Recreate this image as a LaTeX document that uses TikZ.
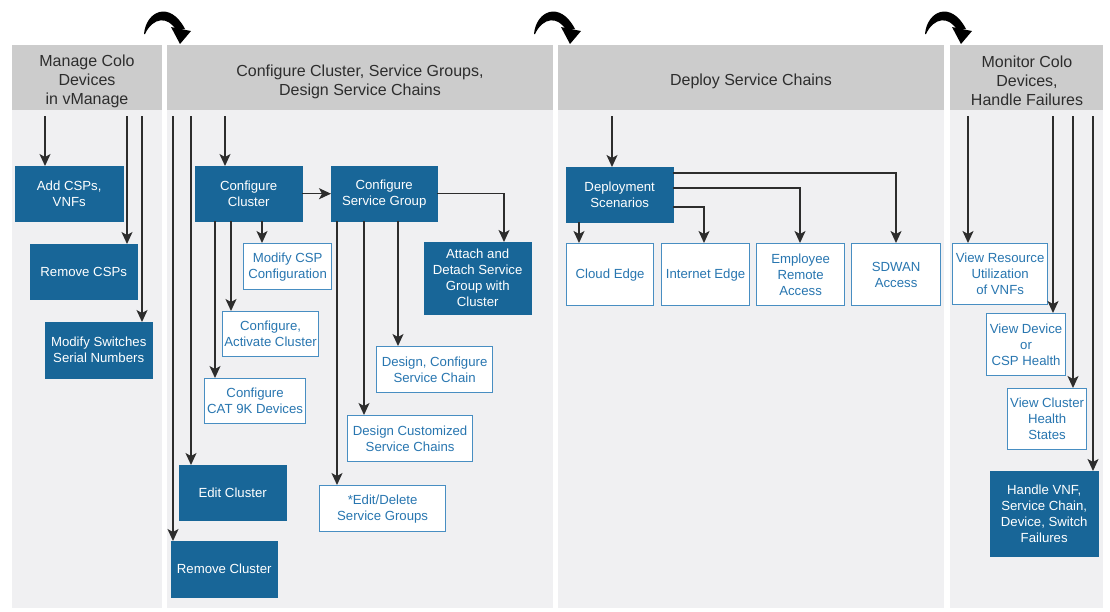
\documentclass[tikz,border=0pt]{standalone}
\usepackage{fontspec}
\setmainfont{Liberation Sans}
\usetikzlibrary{arrows.meta}
\definecolor{dblue}{RGB}{24,102,152}
\definecolor{lblue}{RGB}{72,142,194}
\definecolor{ltext}{RGB}{40,118,176}
\definecolor{hdr}{RGB}{204,204,204}
\definecolor{bodyc}{RGB}{240,240,242}
\definecolor{htext}{RGB}{45,45,45}
\definecolor{linec}{RGB}{45,45,45}
\newcommand\turnarrow[1]{%
  \begin{scope}[shift={(#1,0)}]
    \fill[black] (0,34) .. controls (2,11) and (26,0) .. (41,29) -- (32,30) .. controls (24,16) and (9,17) .. (1,34) -- cycle;
    \fill[black] (27,27) -- (47,31) -- (36,44) -- cycle;
  \end{scope}}
\begin{document}
\begin{tikzpicture}[x=1pt,y=-1pt,
  boxfont/.style={font=\fontsize{13.2}{16}\selectfont},
  darkbox/.style={draw=dblue, fill=dblue, text=white, align=center, inner sep=0pt, anchor=north west, boxfont},
  lightbox/.style={draw=lblue, line width=1.2pt, fill=white, text=ltext, align=center, inner sep=0pt, anchor=north west, boxfont},
  hdrtext/.style={text=htext, align=center, inner sep=0pt, font=\fontsize{16}{19}\selectfont},
  conn/.style={draw=linec, line width=1.4pt, -{Stealth[length=12pt,width=11pt,inset=3pt]}},
]
\useasboundingbox (0,0) rectangle (1110,611);

% column bodies and header bands
\fill[bodyc] (12,110) rectangle (162,608);
\fill[bodyc] (167,110) rectangle (553,608);
\fill[bodyc] (558,110) rectangle (944,608);
\fill[bodyc] (950,110) rectangle (1103,608);
\fill[hdr] (12,45) rectangle (162,110);
\fill[hdr] (167,45) rectangle (553,110);
\fill[hdr] (558,45) rectangle (944,110);
\fill[hdr] (950,45) rectangle (1103,110);

% header texts
\node[hdrtext] (h1) at (87,81) {Manage Colo\\Devices\\in vManage};
\node[hdrtext] (h2) at (360,82) {Configure Cluster, Service Groups,\\Design Service Chains};
\node[hdrtext] (h3) at (751,81) {Deploy Service Chains};
\node[hdrtext] (h4) at (1027,81) {Monitor Colo\\Devices,\\Handle Failures};

% turn arrows
\turnarrow{144}
\turnarrow{534}
\turnarrow{925}

% column 1
\node[darkbox, minimum width=108pt, minimum height=55pt] (add) at (15,166) {Add CSPs,\\VNFs};
\node[darkbox, minimum width=107pt, minimum height=55pt] (remcsp) at (30,244) {Remove CSPs};
\node[darkbox, minimum width=107pt, minimum height=56pt] (modsw) at (45,322) {Modify Switches\\Serial Numbers};
\coordinate (s1a) at (45,116);
\coordinate (s1b) at (127,116);
\coordinate (s1c) at (142,116);
\draw[conn] (s1a) -- (s1a |- add.north);
\draw[conn] (s1b) -- (s1b |- remcsp.north);
\draw[conn] (s1c) -- (s1c |- modsw.north);

% column 2
\node[darkbox, minimum width=107pt, minimum height=55pt] (cc) at (195,166) {Configure\\Cluster};
\node[darkbox, minimum width=106pt, minimum height=55pt] (sg) at (331,166) {Configure\\Service Group};
\node[lightbox, minimum width=88pt, minimum height=46pt] (modcsp) at (243,243) {Modify CSP\\Configuration};
\node[lightbox, minimum width=96pt, minimum height=45pt] (act) at (222,311) {Configure,\\Activate Cluster};
\node[lightbox, minimum width=101pt, minimum height=45pt] (cat) at (204,378) {Configure\\CAT 9K Devices};
\node[darkbox, minimum width=107pt, minimum height=55pt] (edit) at (179,465) {Edit Cluster};
\node[darkbox, minimum width=106pt, minimum height=56pt] (remcl) at (171,541) {Remove Cluster};
\node[darkbox, minimum width=107pt, minimum height=72pt] (attach) at (424,242) {Attach and\\Detach Service\\Group with\\Cluster};
\node[lightbox, minimum width=116pt, minimum height=46pt] (dcsc) at (376,346) {Design, Configure\\Service Chain};
\node[lightbox, minimum width=125pt, minimum height=46pt] (dcust) at (347,415) {Design Customized\\Service Chains};
\node[lightbox, minimum width=126pt, minimum height=46pt] (edsg) at (319,485) {*Edit/Delete\\Service Groups};
\coordinate (s2a) at (173,116);
\coordinate (s2b) at (191,116);
\coordinate (s2c) at (225,116);
\draw[conn] (s2a) -- (s2a |- remcl.north);
\draw[conn] (s2b) -- (s2b |- edit.north);
\draw[conn] (s2c) -- (s2c |- cc.north);
\draw[conn] (cc.east) -- (sg.west);
\draw[conn] (215,0 |- cc.south) -- (215,0 |- cat.north);
\draw[conn] (231,0 |- cc.south) -- (231,0 |- act.north);
\draw[conn] (262,0 |- cc.south) -- (262,0 |- modcsp.north);
\draw[conn] (337,0 |- sg.south) -- (337,0 |- edsg.north);
\draw[conn] (364,0 |- sg.south) -- (364,0 |- dcust.north);
\draw[conn] (398,0 |- sg.south) -- (398,0 |- dcsc.north);
\draw[conn] (sg.east) -| (504,0 |- attach.north);

% column 3
\node[darkbox, minimum width=107pt, minimum height=55pt] (ds) at (566,167) {Deployment\\Scenarios};
\node[lightbox, minimum width=87pt, minimum height=62pt] (cloud) at (566,243) {Cloud Edge};
\node[lightbox, minimum width=88pt, minimum height=62pt] (inet) at (661,243) {Internet Edge};
\node[lightbox, minimum width=88pt, minimum height=62pt] (emp) at (756,243) {Employee\\Remote\\Access};
\node[lightbox, minimum width=89pt, minimum height=62pt] (sdwan) at (851,243) {SDWAN\\Access};
\coordinate (s3a) at (612,116);
\draw[conn] (s3a) -- (s3a |- ds.north);
\draw[conn] (579,0 |- ds.south) -- (579,0 |- cloud.north);
\draw[conn] (ds.east |- 0,207) -| (704,0 |- inet.north);
\draw[conn] (ds.east |- 0,188) -| (800,0 |- emp.north);
\draw[conn] (ds.east |- 0,173) -| (896,0 |- sdwan.north);

% column 4
\node[lightbox, minimum width=95pt, minimum height=61pt] (vres) at (952,243) {View Resource\\Utilization\\of VNFs};
\node[lightbox, minimum width=79pt, minimum height=62pt] (vdev) at (986,313) {View Device\\or\\CSP Health};
\node[lightbox, minimum width=79pt, minimum height=61pt] (vcl) at (1007,388) {View Cluster\\Health\\States};
\node[darkbox, minimum width=108pt, minimum height=85pt] (hand) at (990,471) {Handle VNF,\\Service Chain,\\Device, Switch\\Failures};
\coordinate (s4a) at (968,116);
\coordinate (s4b) at (1053,116);
\coordinate (s4c) at (1073,116);
\coordinate (s4d) at (1093,116);
\draw[conn] (s4a) -- (s4a |- vres.north);
\draw[conn] (s4b) -- (s4b |- vdev.north);
\draw[conn] (s4c) -- (s4c |- vcl.north);
\draw[conn] (s4d) -- (s4d |- hand.north);
\end{tikzpicture}
\end{document}
